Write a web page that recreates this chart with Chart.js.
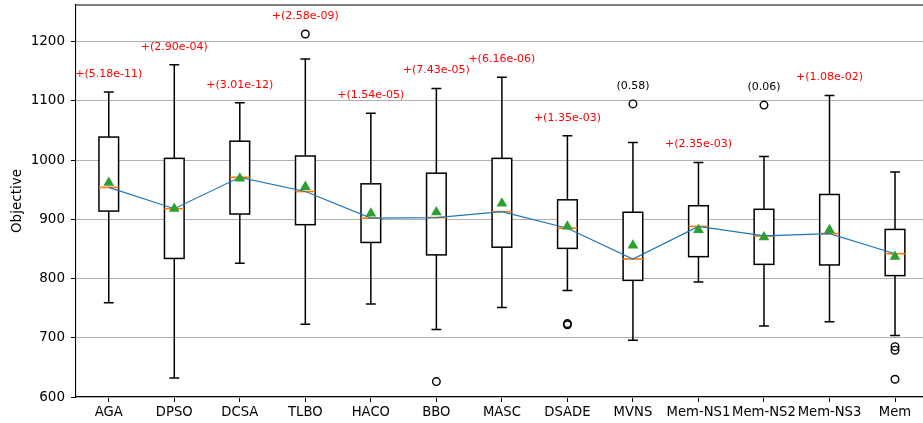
<!DOCTYPE html>
<html>
<head>
<meta charset="utf-8">
<script src="https://cdn.jsdelivr.net/npm/chart.js@4.4.0/dist/chart.umd.min.js"></script>
<style>
  html, body { margin: 0; padding: 0; background: #fff; }
</style>
</head>
<body>
<canvas id="boxChart" width="923" height="423"></canvas>
<script>
// Categories and box statistics
const categories = ['AGA', 'DPSO', 'DCSA', 'TLBO', 'HACO', 'BBO', 'MASC', 'DSADE', 'MVNS', 'Mem-NS1', 'Mem-NS2', 'Mem-NS3', 'Mem'];
const whiskerLow  = [759, 632, 826, 723, 757, 714, 751, 780, 696, 794, 720, 727, 704];
const q1          = [914, 834, 909, 891, 861, 840, 853, 851, 797, 837, 824, 823, 805];
const medians     = [954, 918, 971, 947, 902, 903, 913, 885, 833, 888, 872, 876, 842];
const q3          = [1039, 1003, 1032, 1007, 960, 978, 1003, 933, 912, 923, 917, 942, 883];
const whiskerHigh = [1115, 1161, 1097, 1171, 1079, 1121, 1140, 1041, 1030, 996, 1006, 1109, 980];
const means       = [962, 918, 969, 955, 910, 912, 927, 888, 856, 882, 870, 882, 837];
const outliers    = [[], [], [], [1213], [], [626], [], [724, 722], [1095], [], [1093], [], [685, 679, 630]];
const pValues     = ['+(5.18e-11)', '+(2.90e-04)', '+(3.01e-12)', '+(2.58e-09)', '+(1.54e-05)', '+(7.43e-05)',
                     '+(6.16e-06)', '+(1.35e-03)', '(0.58)', '+(2.35e-03)', '(0.06)', '+(1.08e-02)', ''];
const yTicks      = [600, 700, 800, 900, 1000, 1100, 1200];

const FONT = 'DejaVu Sans';
Chart.defaults.font.family = FONT;
Chart.defaults.color = '#000';

const outlierPoints = [];
outliers.forEach((list, i) => list.forEach(v => outlierPoints.push({ x: i, y: v })));

// Boxes, whiskers, caps and medians
const boxPlugin = {
  id: 'boxPlugin',
  beforeDatasetsDraw(chart) {
    const ctx = chart.ctx;
    const xs = chart.scales.x;
    const ys = chart.scales.y;
    ctx.save();
    categories.forEach((c, i) => {
      const cx = xs.getPixelForValue(i);
      const bl = xs.getPixelForValue(i - 0.15);
      const br = xs.getPixelForValue(i + 0.15);
      const cl = xs.getPixelForValue(i - 0.075);
      const cr = xs.getPixelForValue(i + 0.075);
      const yLo = ys.getPixelForValue(whiskerLow[i]);
      const yHi = ys.getPixelForValue(whiskerHigh[i]);
      const yQ1 = ys.getPixelForValue(q1[i]);
      const yQ3 = ys.getPixelForValue(q3[i]);
      const yMed = ys.getPixelForValue(medians[i]);

      ctx.lineWidth = 1.5;
      ctx.strokeStyle = '#000';
      ctx.beginPath();
      ctx.moveTo(cx, yQ1); ctx.lineTo(cx, yLo);
      ctx.moveTo(cx, yQ3); ctx.lineTo(cx, yHi);
      ctx.moveTo(cl, yLo); ctx.lineTo(cr, yLo);
      ctx.moveTo(cl, yHi); ctx.lineTo(cr, yHi);
      ctx.stroke();

      ctx.fillStyle = '#fff';
      ctx.fillRect(bl, yQ3, br - bl, yQ1 - yQ3);
      ctx.strokeRect(bl, yQ3, br - bl, yQ1 - yQ3);

      ctx.lineWidth = 1.7;
      ctx.strokeStyle = '#ff7f0e';
      ctx.beginPath();
      ctx.moveTo(bl, yMed); ctx.lineTo(br, yMed);
      ctx.stroke();
    });
    ctx.restore();
  },
  afterDatasetsDraw(chart) {
    const ctx = chart.ctx;
    const xs = chart.scales.x;
    const ys = chart.scales.y;
    const area = chart.chartArea;
    ctx.save();
    // p-value labels above each box
    ctx.font = '11px "' + FONT + '"';
    ctx.textAlign = 'center';
    ctx.textBaseline = 'middle';
    pValues.forEach((label, i) => {
      if (!label) return;
      const top = Math.max(whiskerHigh[i], ...outliers[i]);
      ctx.fillStyle = label.startsWith('+') ? '#ff0000' : '#000';
      ctx.fillText(label, xs.getPixelForValue(i), ys.getPixelForValue(top) - 18);
    });
    // top spine
    ctx.strokeStyle = '#000';
    ctx.lineWidth = 1.1;
    ctx.beginPath();
    ctx.moveTo(area.left, area.top);
    ctx.lineTo(area.right, area.top);
    ctx.stroke();
    ctx.restore();
  }
};

new Chart(document.getElementById('boxChart'), {
  type: 'scatter',
  data: {
    datasets: [
      {
        label: 'Mean',
        data: means.map((v, i) => ({ x: i, y: v })),
        pointStyle: 'triangle',
        pointRadius: 6.2,
        backgroundColor: '#2ca02c',
        borderColor: '#2ca02c',
        borderWidth: 0
      },
      {
        label: 'Median',
        type: 'line',
        data: medians.map((v, i) => ({ x: i, y: v })),
        borderColor: '#1f77b4',
        borderWidth: 1.2,
        pointRadius: 0,
        fill: false,
        tension: 0
      },
      {
        label: 'Outliers',
        data: outlierPoints,
        pointStyle: 'circle',
        pointRadius: 3.8,
        backgroundColor: 'rgba(0,0,0,0)',
        borderColor: '#000',
        borderWidth: 1.4
      }
    ]
  },
  options: {
    responsive: false,
    animation: false,
    devicePixelRatio: 1,
    layout: { autoPadding: false, padding: { top: 5, left: 0, right: 0, bottom: 0 } },
    plugins: {
      legend: { display: false },
      tooltip: { enabled: false }
    },
    scales: {
      x: {
        type: 'linear',
        min: -0.5,
        max: 12.427,
        afterBuildTicks: scale => { scale.ticks = categories.map((c, i) => ({ value: i })); },
        afterFit: scale => {
          scale.height = 26;
          scale.paddingLeft = 0;
          scale.paddingRight = 0;
        },
        grid: { drawOnChartArea: false, drawTicks: true, tickLength: 5, tickColor: '#000', tickWidth: 1 },
        border: { display: true, color: '#000', width: 1.1 },
        ticks: {
          autoSkip: false,
          maxRotation: 0,
          padding: 3,
          font: { size: 13.2 },
          callback: value => categories[value]
        }
      },
      y: {
        min: 600,
        max: 1262,
        afterBuildTicks: scale => { scale.ticks = yTicks.map(v => ({ value: v })); },
        afterFit: scale => {
          scale.width = 76;
          scale.paddingTop = 0;
          scale.paddingBottom = 0;
        },
        grid: { color: '#b0b0b0', lineWidth: 1, tickLength: 5, tickColor: '#000', tickWidth: 1 },
        border: { display: true, color: '#000', width: 1.1 },
        ticks: { padding: 6, font: { size: 13.5 }, callback: value => String(value) },
        title: {
          display: true,
          text: 'Objective',
          font: { size: 13.5 },
          padding: { top: 9, bottom: 0 }
        }
      }
    }
  },
  plugins: [boxPlugin]
});
</script>
</body>
</html>
